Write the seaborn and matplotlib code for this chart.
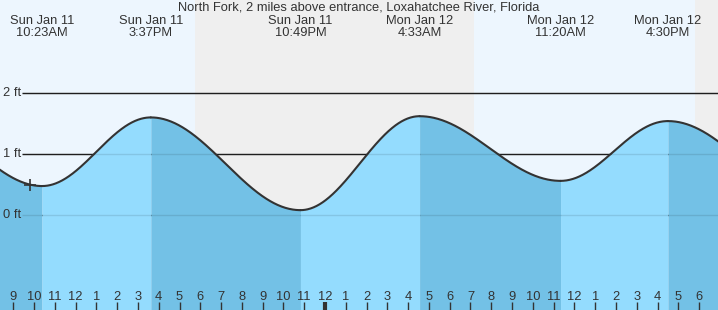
import numpy as np
import pandas as pd
import matplotlib
matplotlib.use("Agg")
import matplotlib.pyplot as plt
import seaborn as sns

# ---- data (hours since Sun Jan 11 00:00) ----
event_hours = [4.27, 10.383, 15.617, 22.817, 28.55, 35.333, 40.5, 47.78]
event_heights = [1.55, 0.475, 1.60, 0.08, 1.62, 0.56, 1.54, 0.20]
label_days = ["Sun Jan 11", "Sun Jan 11", "Sun Jan 11", "Mon Jan 12", "Mon Jan 12", "Mon Jan 12"]
label_times = ["10:23AM", "3:37PM", "10:49PM", "4:33AM", "11:20AM", "4:30PM"]
night_spans = [(17.74, 31.17), (41.81, 44.0)]
now_hour = 9.8
title = "North Fork, 2 miles above entrance, Loxahatchee River, Florida"
y_ticks = [0, 1, 2]
y_tick_labels = ["0 ft", "1 ft", "2 ft"]

# ---- styling ----
sns.set_style("white")
plt.rcParams["font.family"] = ["Liberation Sans", "DejaVu Sans"]
TXT = "#333333"
DAY = "#EDF6FE"
NIGHT = "#EFEFEF"
RISE = "#94DCFE"
FALL = "#73C1E6"
FS = 9.3

XMIN, XMAX = 8.36, 42.91
YMIN, YMAX = -1.557, 3.525

fig = plt.figure(figsize=(7.18, 3.10), dpi=100)
ax = fig.add_axes([0, 0, 1, 1])
ax.set_xlim(XMIN, XMAX)
ax.set_ylim(YMIN, YMAX)
ax.set_facecolor(DAY)
ax.set_axisbelow(False)
for s in ax.spines.values():
    s.set_visible(False)

for a, b in night_spans:
    ax.axvspan(a, b, color=NIGHT, lw=0, zorder=0)

# tide curve rendered between consecutive high/low events (cosine shape)
rows = []
for i in range(len(event_hours) - 1):
    t0, t1 = event_hours[i], event_hours[i + 1]
    h0, h1 = event_heights[i], event_heights[i + 1]
    tt = np.linspace(t0, t1, 200)
    hh = h1 + (h0 - h1) * (1 + np.cos(np.pi * (tt - t0) / (t1 - t0))) / 2
    for t, h in zip(tt, hh):
        rows.append((t, h, i))
df = pd.DataFrame(rows, columns=["hour", "height", "seg"])

# gridlines behind fill
x_line_start = XMIN + 22 / 718 * (XMAX - XMIN)
for y in y_ticks:
    ax.hlines(y, x_line_start, XMAX, color="#222222", lw=1, zorder=1)

for i in range(len(event_hours) - 1):
    seg = df[df.seg == i]
    col = RISE if event_heights[i + 1] > event_heights[i] else FALL
    ax.fill_between(seg.hour, YMIN, seg.height, color=col, lw=0, zorder=2)

# faint gridlines over fill
for y in y_ticks:
    ax.hlines(y, x_line_start, XMAX, color="#000000", alpha=0.1, lw=1, zorder=3)

sns.lineplot(data=df, x="hour", y="height", units="seg", estimator=None,
             color="#333333", lw=1.5, ax=ax, zorder=4)
ax.set_xlabel("")
ax.set_ylabel("")

# current-time marker
now_h = np.interp(now_hour, df.hour, df.height)
ax.plot([now_hour], [now_h], marker="+", ms=9, mew=1.2, color="#333333", zorder=5)

# y labels
for y, lab in zip(y_ticks, y_tick_labels):
    ax.text(XMIN + 3 / 718 * (XMAX - XMIN), y, lab, ha="left", va="center",
            fontsize=FS, color=TXT, zorder=6)

# title and event labels
ax.text(0.5, 1 - 8 / 310, title, transform=ax.transAxes, ha="center",
        va="center", fontsize=FS, color=TXT)
for t, d, tm in zip(event_hours[1:-1], label_days, label_times):
    ax.text(t, YMAX - (21 / 310) * (YMAX - YMIN), d, ha="center", va="center",
            fontsize=FS, color=TXT)
    ax.text(t, YMAX - (33 / 310) * (YMAX - YMIN), tm, ha="center", va="center",
            fontsize=FS, color=TXT)

# hour ticks
hours = list(range(9, 43))
labels = [str((h % 12) if h % 12 else 12) for h in hours]
ax.set_xticks(hours)
ax.set_xticklabels(labels)
ax.set_yticks([])
ax.tick_params(axis="x", direction="in", length=6, width=1, color="#333333",
               pad=-14, labelsize=FS, labelcolor=TXT, bottom=True)
ax.xaxis.set_zorder(6)
for h, tk in zip(hours, ax.xaxis.get_major_ticks()):
    if h == 24:
        tk.tick1line.set_markeredgewidth(3)

fig.savefig("out.png", dpi=100)
